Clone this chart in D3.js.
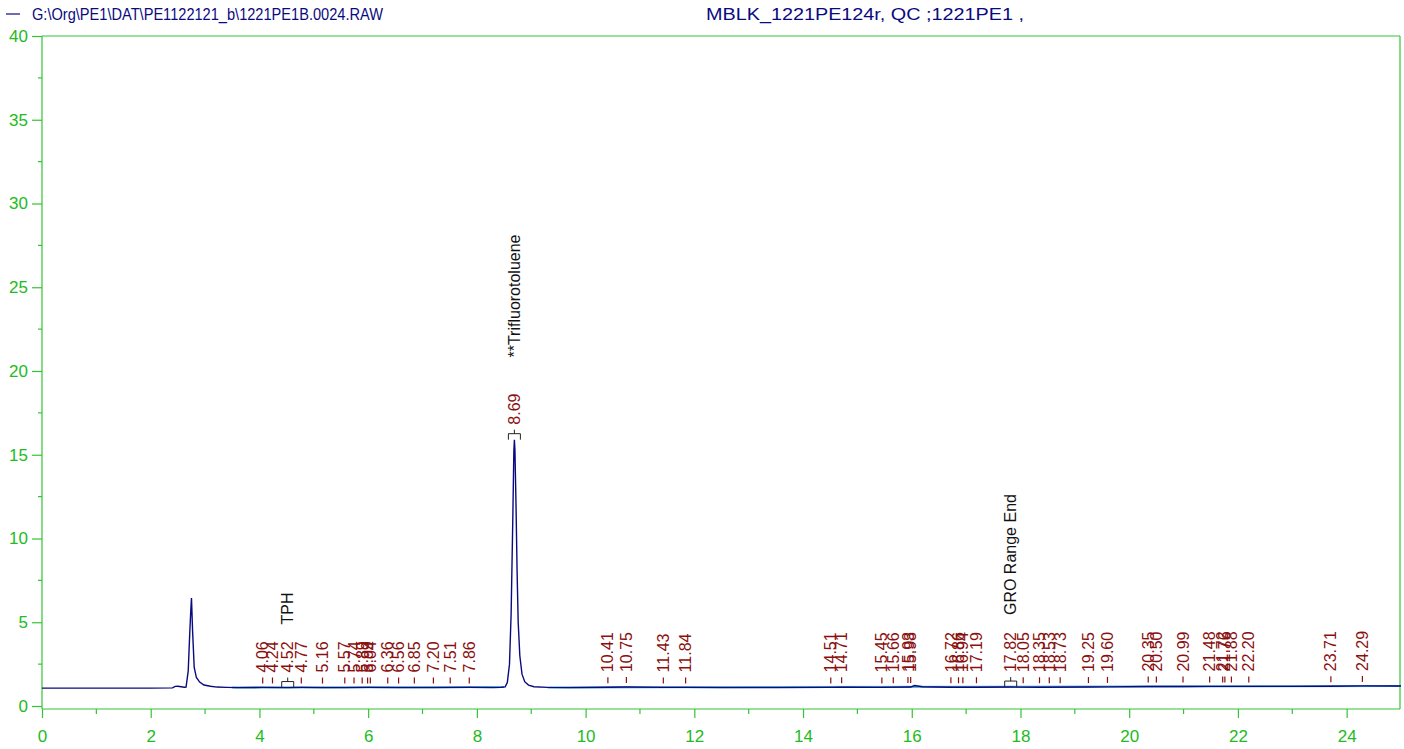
<!DOCTYPE html>
<html><head><meta charset="utf-8">
<script src="https://cdn.jsdelivr.net/npm/d3@7"></script>
<style>
html,body{margin:0;padding:0;background:#fff;}
svg{display:block;font-family:"Liberation Sans",Arial,sans-serif;}
</style></head>
<body><svg id="chart" width="1404" height="749"></svg>
<script>
// ---- data ----
const fileName = "G:\\Org\\PE1\\DAT\\PE1122121_b\\1221PE1B.0024.RAW";
const sampleInfo = "MBLK_1221PE124r, QC ;1221PE1 ,";
const xTicks = [0,2,4,6,8,10,12,14,16,18,20,22,24];
const yTicks = [0,5,10,15,20,25,30,35,40];
// chromatogram trace (time, min ; signal)
const traceTime = [0,1.0,2.0,2.40,2.45,2.50,2.56,2.62,2.65,2.69,2.72,2.74,2.75,2.77,2.80,2.84,2.90,2.98,3.10,3.22,3.40,3.60,4.06,4.52,4.77,5.16,5.57,6.00,6.56,7.20,7.86,8.30,8.45,8.52,8.56,8.60,8.63,8.66,8.68,8.69,8.70,8.72,8.74,8.76,8.79,8.83,8.88,8.95,9.05,9.30,9.70,10.41,10.75,11.43,11.84,12.5,13.5,14.51,14.71,15.45,15.98,16.05,16.2,16.72,17.19,17.82,18.35,19.25,19.60,20.35,20.99,21.48,22.20,23.00,23.71,24.29,25.00];
const traceSignal = [1.07,1.07,1.07,1.08,1.17,1.18,1.15,1.12,1.13,2.1,4.5,5.9,6.45,4.5,2.3,1.7,1.43,1.25,1.18,1.13,1.11,1.10,1.11,1.10,1.11,1.10,1.10,1.11,1.10,1.10,1.11,1.10,1.11,1.14,1.40,2.5,5.5,11.0,15.2,15.9,15.3,12.0,8.0,5.0,3.0,1.9,1.45,1.25,1.15,1.11,1.10,1.12,1.13,1.11,1.11,1.10,1.10,1.11,1.12,1.11,1.13,1.22,1.15,1.12,1.12,1.13,1.12,1.13,1.14,1.16,1.16,1.17,1.17,1.17,1.18,1.20,1.19];
// integration baseline segments (start, end)
const baseStart = [3.50, 9.30];
const baseEnd = [8.50, 25.00];
// peak retention times (labelled)
const peakTimes = [4.06,4.24,4.52,4.77,5.16,5.57,5.74,5.89,5.99,6.04,6.36,6.56,6.85,7.20,7.51,7.86,8.69,10.41,10.75,11.43,11.84,14.51,14.71,15.45,15.66,15.93,15.98,16.72,16.86,16.94,17.19,17.82,18.05,18.35,18.53,18.73,19.25,19.60,20.35,20.50,20.99,21.48,21.72,21.76,21.88,22.20,23.71,24.29];
// named compounds
const compoundTimes = [4.52, 8.69, 17.82];
const compoundNames = ["TPH", "**Trifluorotoluene", "GRO Range End"];

// ---- drawing ----
const svg = d3.select("#chart");
const green = "#33c433", greenText = "#22bb22";
const navy = "#0a0a80", teal = "#4aa6cc", red = "#8a0f0f";
const x = d3.scaleLinear().domain([0,25]).range([42,1401]);
const y = d3.scaleLinear().domain([0,40]).range([706,36]);
const axisY = 709;

// header
svg.append("line").attr("x1",6).attr("x2",20).attr("y1",14).attr("y2",14).attr("stroke",navy).attr("stroke-width",1.2);
svg.append("text").attr("x",32).attr("y",20).attr("font-size",16).attr("fill",navy)
  .attr("textLength",351).attr("lengthAdjust","spacingAndGlyphs").text(fileName);
svg.append("text").attr("x",706).attr("y",20).attr("font-size",16).attr("fill",navy)
  .attr("textLength",318).attr("lengthAdjust","spacingAndGlyphs").text(sampleInfo);

// frame
svg.append("line").attr("x1",x(0)).attr("x2",1400).attr("y1",36).attr("y2",36).attr("stroke",green).attr("stroke-width",1.2);
svg.append("line").attr("x1",1400).attr("x2",1400).attr("y1",36).attr("y2",axisY).attr("stroke",green).attr("stroke-width",1.2);

// y axis
const gy = svg.append("g").attr("transform",`translate(${x(0)},0)`)
  .call(d3.axisLeft(y).tickValues(yTicks).tickSize(10).tickPadding(4).tickFormat(d3.format("d")));
gy.select(".domain").remove();
gy.append("line").attr("x1",0).attr("x2",0).attr("y1",36).attr("y2",axisY).attr("stroke",green).attr("stroke-width",1.2);
gy.selectAll(".tick line").attr("stroke",green).attr("stroke-width",1.2);
gy.selectAll(".tick text").attr("fill",greenText).attr("font-size",17).attr("font-family","Liberation Sans, Arial, sans-serif");
const yMinor = d3.range(2.5,40,5);
gy.selectAll(".yminor").data(yMinor).enter().append("line").attr("class","yminor")
  .attr("x1",-4).attr("x2",0).attr("y1",d=>y(d)).attr("y2",d=>y(d)).attr("stroke",green).attr("stroke-width",1.2);

// x axis
const gx = svg.append("g").attr("transform",`translate(0,${axisY})`)
  .call(d3.axisBottom(x).tickValues(xTicks).tickSize(9).tickPadding(12).tickFormat(d3.format("d")));
gx.select(".domain").remove();
gx.append("line").attr("x1",x(0)).attr("x2",1400).attr("y1",0).attr("y2",0).attr("stroke",green).attr("stroke-width",1.2);
gx.selectAll(".tick line").attr("stroke",green).attr("stroke-width",1.2);
gx.selectAll(".tick text").attr("fill",greenText).attr("font-size",17).attr("font-family","Liberation Sans, Arial, sans-serif");
const xMinor = d3.range(1,25,2);
gx.selectAll(".xminor").data(xMinor).enter().append("line").attr("class","xminor")
  .attr("x1",d=>x(d)).attr("x2",d=>x(d)).attr("y1",0).attr("y2",5).attr("stroke",green).attr("stroke-width",1.2);

// trace
const pts = traceTime.map((t,i)=>[t,traceSignal[i]]);
const interpSig = t => { const i = d3.bisectLeft(traceTime,t); if(i<=0) return traceSignal[0]; if(i>=traceTime.length) return traceSignal[traceSignal.length-1];
  const t0=traceTime[i-1],t1=traceTime[i]; const f=(t-t0)/(t1-t0); return traceSignal[i-1]+f*(traceSignal[i]-traceSignal[i-1]); };
// integration baselines
baseStart.forEach((s,i)=>{
  svg.append("line").attr("x1",x(s)).attr("x2",x(baseEnd[i])).attr("y1",y(interpSig(s))).attr("y2",y(interpSig(baseEnd[i])))
   .attr("stroke",teal).attr("stroke-width",2);
});
const line = d3.line().x(d=>x(d[0])).y(d=>y(d[1]));
svg.append("path").datum(pts).attr("d",line).attr("fill","none").attr("stroke",navy).attr("stroke-width",1.4);

// peak labels
const fmt = d3.format(".2f");
peakTimes.forEach(t=>{
  const px = x(t);
  const top = y(interpSig(t)) - 10; // top of marker
  const ci = compoundTimes.indexOf(t);
  if (ci >= 0) {
    svg.append("path").attr("d",`M${px},${top} V${top+4} M${px-6},${top+10} V${top+4} H${px+6} V${top+10}`)
      .attr("fill","none").attr("stroke","#222").attr("stroke-width",1);
  } else {
    svg.append("line").attr("x1",px).attr("x2",px).attr("y1",top).attr("y2",top+6).attr("stroke",red).attr("stroke-width",1.2);
  }
  const ty = top - 5;
  const lab = svg.append("text").attr("transform",`translate(${px},${ty}) rotate(-90)`)
    .attr("dy","0.35em").attr("font-size",16).attr("fill",red).text(fmt(t));
  if (ci >= 0) {
    const w = lab.node().getComputedTextLength();
    const gap = compoundNames[ci].startsWith("**") ? 36 : 17;
    svg.append("text").attr("transform",`translate(${px},${ty - w - gap}) rotate(-90)`)
      .attr("dy","0.35em").attr("font-size",16).attr("fill","#111").text(compoundNames[ci]);
  }
});
</script></body></html>
